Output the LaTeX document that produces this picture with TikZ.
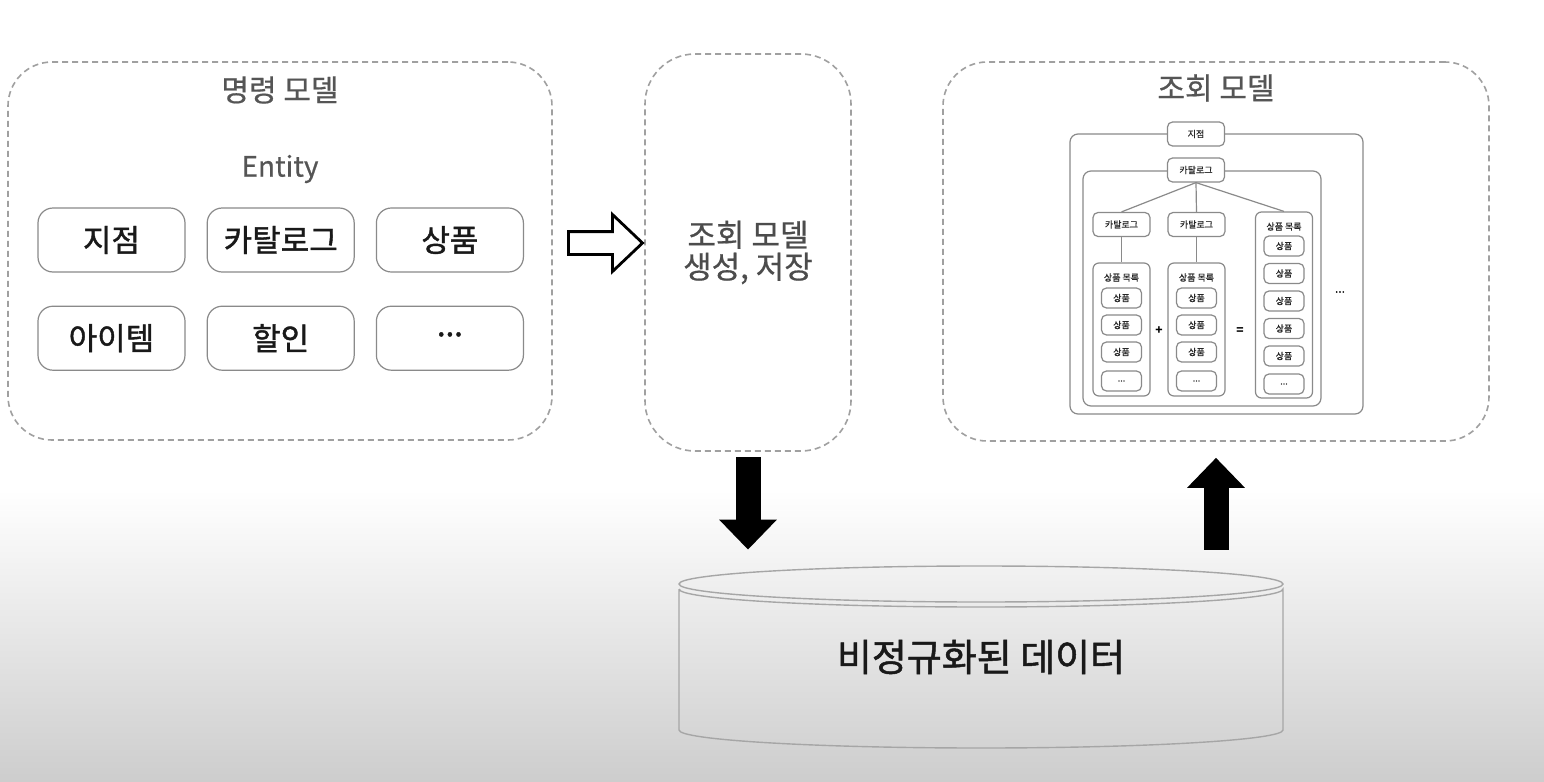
\documentclass[tikz,border=0pt]{standalone}
\usepackage{fontspec}
\setmainfont{Noto Sans CJK KR}
\newfontfamily\medfont{Noto Sans CJK KR}[FakeBold=1.3]
\newfontfamily\semifont{Noto Sans CJK KR}[FakeBold=0.6]
\usetikzlibrary{positioning,arrows.meta,shapes.arrows}

\definecolor{bgbot}{HTML}{CDCDCD}
\definecolor{dashgray}{HTML}{A0A0A0}
\definecolor{linegray}{HTML}{8A8A8A}
\definecolor{titlegray}{HTML}{555555}

\begin{document}
\begin{tikzpicture}[x=0.5pt, y=-0.5pt,
    dashbox/.style={draw=dashgray, line width=0.8pt,
                    dash pattern=on 3pt off 2pt, rounded corners=22pt},
    entity/.style={draw=linegray, line width=0.6pt, rounded corners=7.5pt,
                   minimum width=73.5pt, minimum height=32pt,
                   font=\fontsize{15.5}{18}\medfont, text=black!90},
    title/.style={font=\fontsize{15}{18}\semifont, text=titlegray},
    tline/.style={draw=linegray, line width=0.6pt},
    tbox/.style={tline, fill=white, rounded corners=2.5pt, inner sep=0pt,
                 minimum width=28.5pt, minimum height=12pt,
                 font=\fontsize{4.5}{5.5}\semifont, text=black!85},
    item/.style={tbox, minimum width=20pt, minimum height=10pt},
    tlist/.style={tline, rounded corners=3pt, minimum width=28.5pt},
    bigarrow/.style={line width=12.5pt, -{Triangle[width=28pt,length=15pt]}}
]
    % background
    \fill[white] (0,0) rectangle (1544,782);
    \shade[top color=white, bottom color=bgbot] (0,490) rectangle (1544,782);

    % the three model boxes
    \node[dashbox, minimum width=272pt, minimum height=189pt] (cmd) at (280,251) {};
    \node[dashbox, rounded corners=25pt, minimum width=103pt, minimum height=198.5pt,
          align=center, font=\fontsize{15.5}{16}\semifont, text=black!70]
          (gen) at (748,252.5) {조회 모델\\생성, 저장};
    \node[dashbox, minimum width=273pt, minimum height=189.5pt] (query) at (1216,251.5) {};

    \node[title] (cmdtitle) at (280,90) {명령 모델};
    \node[title, font=\fontsize{14}{16}\semifont] (enttitle) at (280,169) {Entity};
    \node[title] (querytitle) at (1216,88) {조회 모델};

    % Entities
    \node[entity] (branch) at (111.5,240) {지점};
    \node[entity, right=10.5pt of branch] (catalog) {카탈로그};
    \node[entity, right=10.5pt of catalog] (product) {상품};
    \node[entity, below=16.5pt of branch] (item) {아이템};
    \node[entity, right=10.5pt of item] (discount) {할인};
    \node[entity, right=10.5pt of discount] (more) {\raisebox{4pt}{...}};

    % hollow arrow between command and generation
    \node[single arrow, draw=black, line width=1.4pt, inner sep=5pt,
          minimum height=37pt, single arrow head extend=8.5pt,
          single arrow tip angle=87] (convert) at (599.5,243) {};

    % read model tree
    \draw[tline, rounded corners=4pt] (1070,134) rectangle (1363,414);
    \draw[tline, rounded corners=4pt] (1083,171) rectangle (1321,406);
    \node[tbox] (rbranch) at (1196,134) {지점};
    \node[tbox] (rcat) at (1196,170) {카탈로그};
    \node[tbox] (rcatA) at (1121.5,224.5) {카탈로그};
    \node[tbox] (rcatB) at (1196.5,224.5) {카탈로그};

    \node[tlist, minimum height=66.5pt,
          label={[anchor=north, yshift=-2pt, font=\fontsize{4.5}{5.5}\semifont, text=black!85]north:상품 목록}]
          (rlistA) at (1121.5,329.5) {};
    \node[tlist, minimum height=66.5pt,
          label={[anchor=north, yshift=-2pt, font=\fontsize{4.5}{5.5}\semifont, text=black!85]north:상품 목록}]
          (rlistB) at (1196.5,329.5) {};
    \node[tlist, minimum height=93pt,
          label={[anchor=north, yshift=-2pt, font=\fontsize{4.5}{5.5}\semifont, text=black!85]north:상품 목록}]
          (rlistAll) at (1284,305) {};

    \foreach \y [count=\i] in {298,325,352}
    {
        \node[item] (rA\i) at (1121.5,\y) {상품};
        \node[item] (rB\i) at (1196.5,\y) {상품};
    }
    \node[item] (rA4) at (1121.5,381) {...};
    \node[item] (rB4) at (1196.5,381) {...};
    \foreach \y [count=\i] in {246,273.5,301,328.5,356}
        \node[item] (rC\i) at (1284,\y) {상품};
    \node[item] (rC6) at (1284,384) {...};

    \node[font=\fontsize{6}{7}\selectfont\bfseries] (plus) at (1159,331) {+};
    \node[font=\fontsize{6}{7}\selectfont\bfseries] (equals) at (1240,331) {=};
    \node[font=\fontsize{6}{7}\semifont] (rmore) at (1340,292) {...};

    \draw[tline] (rcat.south) -- (rcatA.north);
    \draw[tline] (rcat.south) -- (rcatB.north);
    \draw[tline] (rcat.south) -- (rlistAll.north);
    \draw[tline] (rcatA.south) -- (rlistA.north);
    \draw[tline] (rcatB.south) -- (rlistB.north);

    % denormalized data store
    \node[font=\fontsize{19}{22}\medfont, text=black!90,
          minimum width=302pt, minimum height=91pt] (db) at (981,657) {비정규화된 데이터};
    \draw[draw=gray!70, line width=0.7pt]
        (679,589) -- (679,730)
        arc[start angle=180, end angle=0, x radius=302, y radius=18]
        -- (1283,589)
        arc[start angle=0, end angle=180, x radius=302, y radius=18];
    \draw[draw=gray!70, line width=0.7pt] (981,584) ellipse[x radius=302, y radius=18];

    % save and read
    \draw[bigarrow] ([yshift=-2.5pt]gen.south) -- ([yshift=8pt]gen.south |- db.north);
    \draw[bigarrow] ([yshift=8pt]query.south |- db.north) -- ([yshift=-8pt]query.south);
\end{tikzpicture}
\end{document}
